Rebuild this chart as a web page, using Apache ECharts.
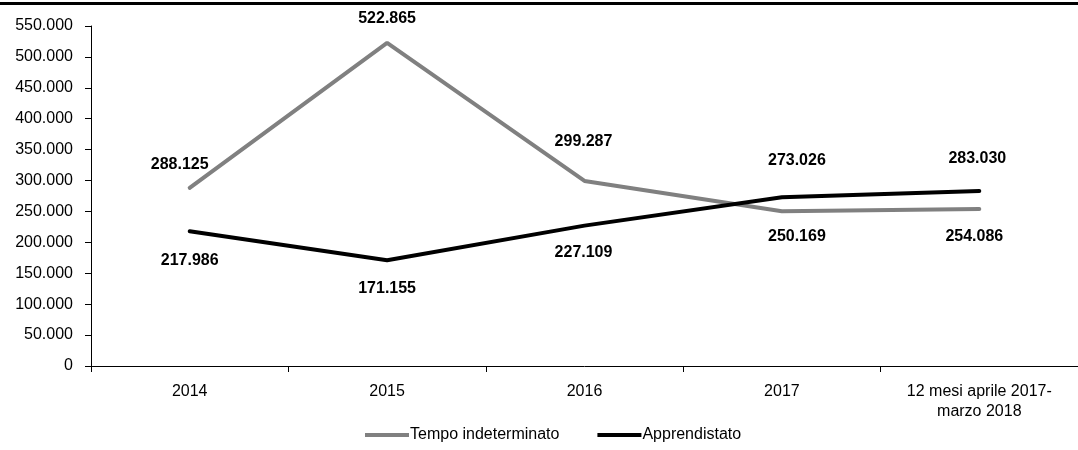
<!DOCTYPE html>
<html>
<head>
<meta charset="utf-8">
<script src="https://cdn.jsdelivr.net/npm/echarts@6/dist/echarts.min.js"></script>
<style>
  html, body { margin: 0; padding: 0; background: #fff; }
  #main { width: 1078px; height: 450px; }
</style>
</head>
<body>
<div id="main"></div>
<script>
// dati
var anni = ['2014', '2015', '2016', '2017', '12 mesi aprile 2017-\nmarzo 2018'];
var tempoIndeterminato = [288125, 522865, 299287, 250169, 254086];
var apprendistato = [217986, 171155, 227109, 273026, 283030];

// numeri all'italiana: 522.865
function fmt(v) {
    return String(v).replace(/\B(?=(\d{3})+(?!\d))/g, '.');
}

var fontBase = 'Liberation Sans, Arial, sans-serif';

// spostamento etichette rispetto al punto [dx, dy]
var offGrigio = [[-10, -23], [0, -24], [-1, -39], [15, 25], [-5, 28]];
var offNero = [[0, 29], [0, 28], [-1, 27], [15, -37], [-2, -32]];

function conEtichette(valori, off) {
    var out = [];
    for (var i = 0; i < valori.length; i++) {
        out.push({
            value: valori[i],
            label: { position: 'inside', offset: off[i] }
        });
    }
    return out;
}

var myChart = echarts.init(document.getElementById('main'));

var etichetta = {
    show: true,
    color: '#000',
    fontWeight: 'bold',
    fontSize: 16,
    formatter: function (p) { return fmt(p.value); }
};

var option = {
    animation: false,
    textStyle: { fontFamily: fontBase },
    graphic: [{
        type: 'rect',
        left: 0, top: 2,
        shape: { width: 1078, height: 3 },
        style: { fill: '#000' }
    }],
    grid: {
        left: 91,
        right: -10,
        top: 26,
        bottom: 84
    },
    legend: {
        top: 422,
        left: 360,
        icon: 'rect',
        itemWidth: 44,
        itemHeight: 4,
        itemGap: 38,
        textStyle: { fontSize: 16, color: '#000', padding: [0, 0, 0, -4] },
        data: ['Tempo indeterminato', 'Apprendistato']
    },
    xAxis: {
        type: 'category',
        data: anni,
        boundaryGap: true,
        axisLine: { lineStyle: { color: '#000', width: 1 } },
        axisTick: { show: true, length: 6, lineStyle: { color: '#000' } },
        axisLabel: { color: '#000', fontSize: 16, margin: 16, lineHeight: 20 }
    },
    yAxis: {
        type: 'value',
        min: 0,
        max: 550000,
        interval: 50000,
        splitLine: { show: false },
        axisLine: { show: true, lineStyle: { color: '#000', width: 1 } },
        axisTick: { show: true, length: 6, lineStyle: { color: '#000' } },
        axisLabel: {
            color: '#000',
            fontSize: 16,
            margin: 18,
            formatter: function (v) { return fmt(v); }
        }
    },
    series: [
        {
            name: 'Tempo indeterminato',
            type: 'line',
            data: conEtichette(tempoIndeterminato, offGrigio),
            symbol: 'circle',
            symbolSize: 1,
            showSymbol: true,
            lineStyle: { color: '#808080', width: 4, cap: 'round' },
            itemStyle: { color: '#808080' },
            label: etichetta
        },
        {
            name: 'Apprendistato',
            type: 'line',
            data: conEtichette(apprendistato, offNero),
            symbol: 'circle',
            symbolSize: 1,
            showSymbol: true,
            lineStyle: { color: '#000', width: 4, cap: 'round' },
            itemStyle: { color: '#000' },
            label: etichetta
        }
    ]
};

myChart.setOption(option);
</script>
</body>
</html>
